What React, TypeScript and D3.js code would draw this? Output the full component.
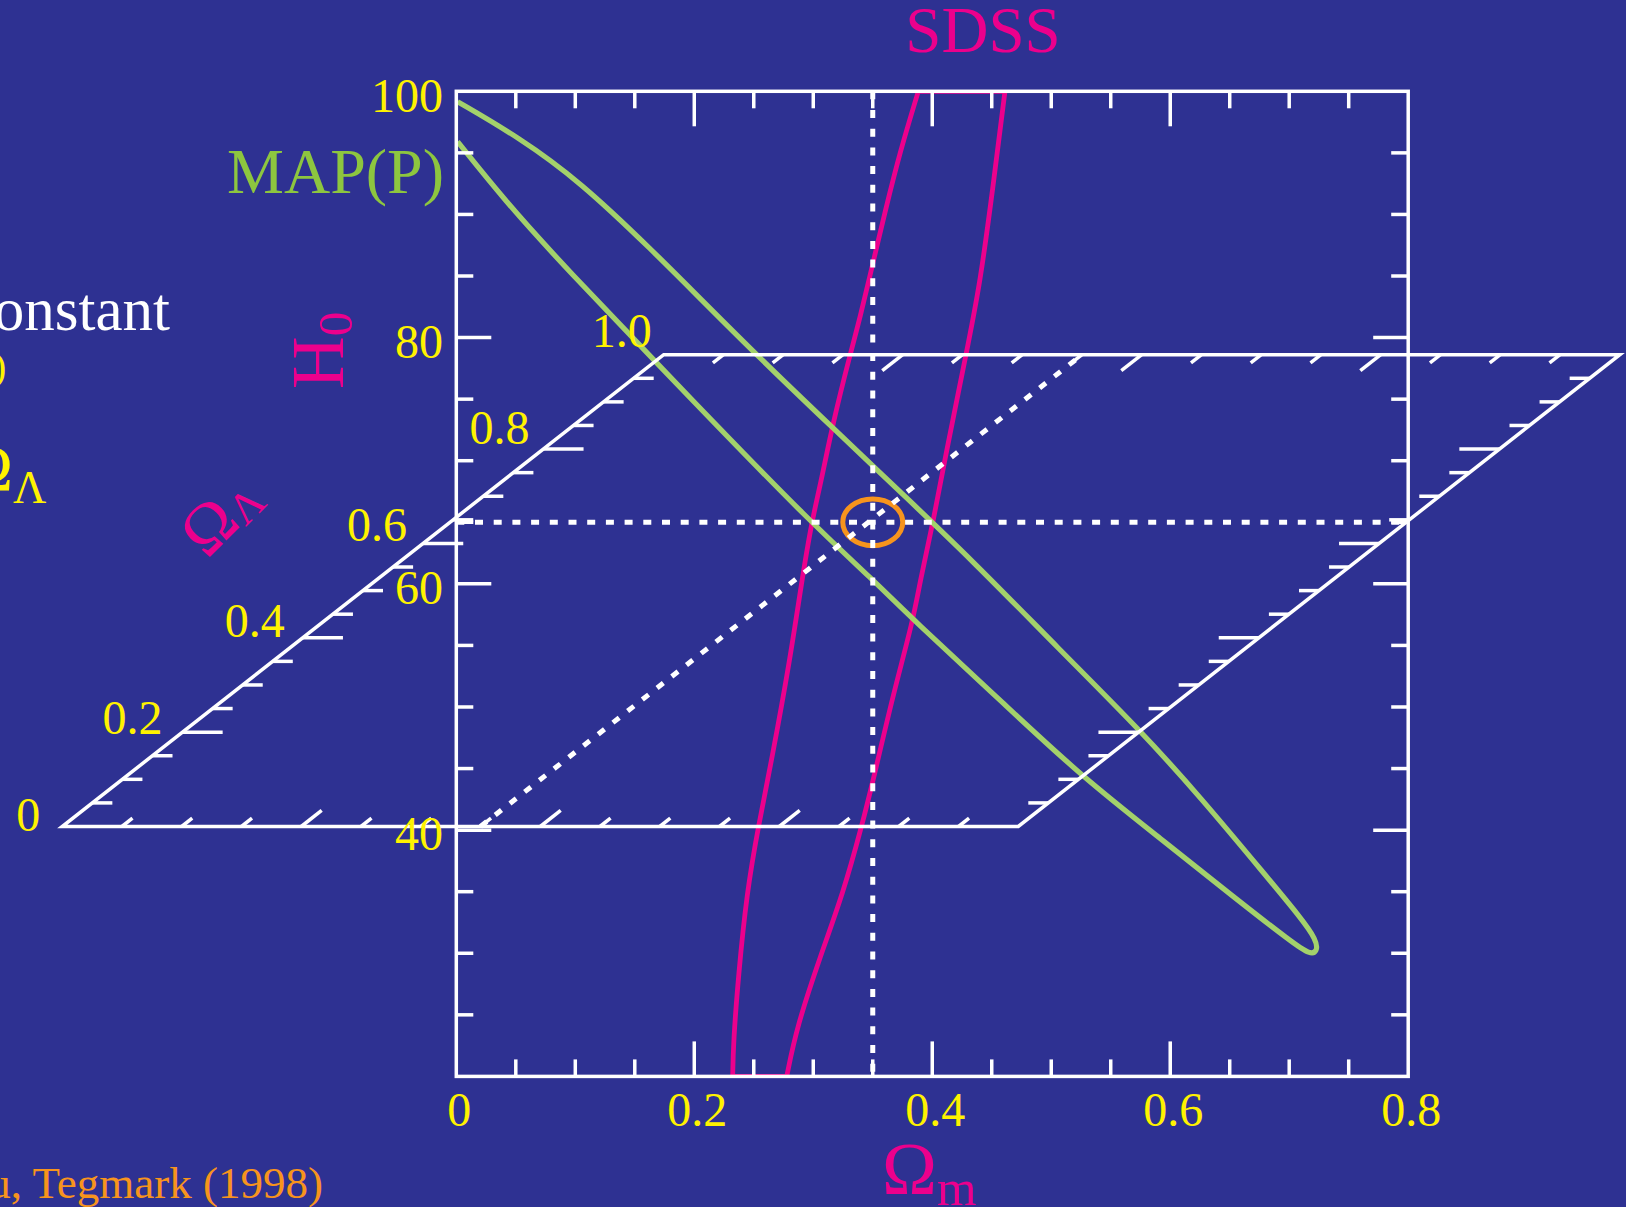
import React from 'react';
import * as d3 from 'd3';

const W = 1626;
const H = 1207;
const BG = '#2e3192';
const YELLOW = '#fff200';
const MAGENTA = '#ec008c';
const GREEN_LINE = '#a3d16b';
const GREEN_TEXT = '#8dc63f';
const ORANGE = '#f7941d';
const FONT = '"Liberation Serif", "Times New Roman", serif';

// axis labels
const omegaMLabels = [0, 0.2, 0.4, 0.6, 0.8];
const h0Labels = [40, 60, 80, 100];
const omegaLLabels = [0, 0.2, 0.4, 0.6, 0.8, 1.0];

// fiducial model and its error ellipse (half widths)
const fiducialOmegaM = 0.35;
const fiducialH0 = 65;
const fiducialErr = [0.0252, 1.9];

// SDSS contour, [Omega_m, H0]
const sdssLeft: [number, number][] = [
  [0.2323, 20], [0.2328, 22.7], [0.237, 28.1], [0.2441, 34.9], [0.2538, 40.3],
  [0.2651, 45.7], [0.2804, 53.8], [0.2903, 60.2], [0.2987, 65.05], [0.3059, 68.0],
  [0.3168, 73.2], [0.3309, 78.6], [0.3393, 81.6], [0.3505, 86.2], [0.3603, 90.2],
  [0.3729, 95.1], [0.3883, 100],
];
const sdssRight: [number, number][] = [
  [0.4611, 100], [0.4513, 92.4], [0.4401, 84.3], [0.4289, 78.85], [0.4107, 70.2],
  [0.4009, 65.05], [0.3897, 60.2], [0.3841, 57.1], [0.3673, 51.1], [0.3505, 44.1],
  [0.3407, 40.3], [0.3252, 34.9], [0.3057, 29.7], [0.2861, 24.0], [0.2777, 20],
];

// MAP(P) contour
const mapUpper: [number, number][] = [
  [0.0011, 99.16], [0.0518, 96.31], [0.1043, 92.66], [0.1661, 86.95], [0.2048, 83.19],
  [0.2552, 78.32], [0.3168, 72.63], [0.3729, 67.48], [0.4317, 62.1], [0.5073, 54.63],
  [0.5746, 48.13], [0.625, 42.72], [0.6811, 36.22], [0.709, 32.97], [0.7231, 31.08],
  [0.7236, 30.13],
];
const mapLower: [number, number][] = [
  [0.7175, 29.9], [0.7034, 30.81], [0.653, 34.59], [0.597, 38.93], [0.5256, 44.34],
  [0.4569, 50.57], [0.3841, 57.07], [0.3504, 60.31], [0.2973, 65.05], [0.2048, 74.26],
  [0.0855, 86.3], [0.0405, 91.17], [0.0011, 95.91],
];

export default function App() {
  const x = d3.scaleLinear().domain([0, 0.8]).range([456.3, 1408.2]);
  const y = d3.scaleLinear().domain([20, 100]).range([1076.4, 91.3]);

  // the slanted Omega_Lambda plane
  const planeX = d3.scaleLinear().domain([0, 0.8]).range([62.2, 1018.3]);
  const planeY = d3.scaleLinear().domain([0, 1]).range([826.5, 354.7]);
  const planeSkew = d3.scaleLinear().domain([0, 1]).range([0, 601.5]);
  const pt = (om: number, ol: number): [number, number] => [planeX(om) + planeSkew(ol), planeY(ol)];

  const curve = d3.line<[number, number]>()
    .x(d => x(d[0]))
    .y(d => y(d[1]))
    .curve(d3.curveBasis);

  const sdssPath = (curve(sdssLeft) as string) + (curve(sdssRight) as string).replace(/^M/, 'L') + 'Z';
  const mapPath = curve([...mapUpper, ...mapLower]) as string;

  const planeOutline = d3.line()([pt(0, 0), pt(0.8, 0), pt(0.8, 1), pt(0, 1)]) + 'Z';

  const xMinor = d3.range(1, 16).map(i => +(i * 0.05).toFixed(2));
  const xMajor = (v: number) => Math.abs(v * 5 - Math.round(v * 5)) < 1e-6;
  const yMinor = d3.range(25, 100, 5);
  const yMajor = (v: number) => v % 20 === 0;
  const lMinor = d3.range(1, 20).map(i => +(i * 0.05).toFixed(2));

  const fmt = (v: number) => (v === 0 ? '0' : v.toFixed(1));
  const white = { stroke: '#fff', strokeWidth: 3.5, fill: 'none' };
  const dotted = { stroke: '#fff', strokeWidth: 5, strokeDasharray: '8 10.7', fill: 'none' };

  return (
    <svg width={W} height={H} style={{ position: 'absolute', left: 0, top: 0, display: 'block' }}
      fontFamily={FONT}>
      <defs>
        <clipPath id="frame">
          <rect x={x(0)} y={y(100)} width={x(0.8) - x(0)} height={y(20) - y(100)} />
        </clipPath>
      </defs>
      <rect width={W} height={H} fill={BG} />

      {/* contours */}
      <g clipPath="url(#frame)">
        <path d={sdssPath} stroke={MAGENTA} strokeWidth={4.8} fill="none" />
        <path d={mapPath} stroke={GREEN_LINE} strokeWidth={5.2} fill="none" />
      </g>
      <ellipse cx={x(fiducialOmegaM)} cy={y(fiducialH0)}
        rx={x(fiducialOmegaM + fiducialErr[0]) - x(fiducialOmegaM)}
        ry={y(fiducialH0 - fiducialErr[1]) - y(fiducialH0)}
        stroke={ORANGE} strokeWidth={5} fill="none" />

      {/* Omega_Lambda plane */}
      <path d={planeOutline} {...white} />
      {xMinor.map(v => {
        const len = xMajor(v) ? 0.034 : 0.0175;
        const a = pt(v, 0), b = pt(v, len), c = pt(v, 1), e = pt(v, 1 - len);
        return (
          <g key={'pm' + v}>
            <line x1={a[0]} y1={a[1]} x2={b[0]} y2={b[1]} {...white} />
            <line x1={c[0]} y1={c[1]} x2={e[0]} y2={e[1]} {...white} />
          </g>
        );
      })}
      {lMinor.map(v => {
        const major = Math.abs(v * 5 - Math.round(v * 5)) < 1e-6;
        const len = major ? 0.0336 : 0.0168;
        const a = pt(0, v), b = pt(len, v), c = pt(0.8, v), e = pt(0.8 - len, v);
        return (
          <g key={'pl' + v}>
            <line x1={a[0]} y1={a[1]} x2={b[0]} y2={b[1]} {...white} />
            <line x1={c[0]} y1={c[1]} x2={e[0]} y2={e[1]} {...white} />
          </g>
        );
      })}
      {omegaLLabels.map(v => {
        const p = pt(0, v);
        return (
          <text key={'ll' + v} x={p[0] - 22 + v * 10} y={p[1] - 12 - v * 12} dy="0.34em" textAnchor="end"
            fontSize={48} fill={YELLOW}>{fmt(v)}</text>
        );
      })}

      {/* fiducial dotted lines */}
      <line x1={x(fiducialOmegaM)} y1={y(100)} x2={x(fiducialOmegaM)} y2={y(20)} {...dotted} />
      <line x1={x(0)} y1={y(fiducialH0)} x2={x(0.8)} y2={y(fiducialH0)} {...dotted} />
      <line x1={pt(fiducialOmegaM, 0)[0]} y1={pt(fiducialOmegaM, 0)[1]}
        x2={pt(fiducialOmegaM, 1)[0]} y2={pt(fiducialOmegaM, 1)[1]} {...dotted} />

      {/* main frame */}
      <rect x={x(0)} y={y(100)} width={x(0.8) - x(0)} height={y(20) - y(100)} {...white} />
      {xMinor.map(v => {
        const len = xMajor(v) ? 35 : 17;
        return (
          <g key={'xt' + v}>
            <line x1={x(v)} x2={x(v)} y1={y(100)} y2={y(100) + len} {...white} />
            <line x1={x(v)} x2={x(v)} y1={y(20)} y2={y(20) - len} {...white} />
          </g>
        );
      })}
      {yMinor.map(v => {
        const len = yMajor(v) ? 35 : 17;
        return (
          <g key={'yt' + v}>
            <line x1={x(0)} x2={x(0) + len} y1={y(v)} y2={y(v)} {...white} />
            <line x1={x(0.8)} x2={x(0.8) - len} y1={y(v)} y2={y(v)} {...white} />
          </g>
        );
      })}
      {omegaMLabels.map(v => (
        <text key={'xl' + v} x={x(v) + 3} y={1126} textAnchor="middle" fontSize={48} fill={YELLOW}>
          {fmt(v)}
        </text>
      ))}
      {h0Labels.map(v => (
        <text key={'hl' + v} x={443} y={y(v) + 4} dy="0.34em" textAnchor="end" fontSize={48} fill={YELLOW}>
          {v}
        </text>
      ))}

      {/* titles */}
      <text x={882} y={1194} fontSize={74} fill={MAGENTA}>
        Ω<tspan fontSize={51} dy={11}>m</tspan>
      </text>
      <text transform="translate(343,389) rotate(-90)" fontSize={73} fill={MAGENTA}>
        H<tspan fontSize={49} dy={9}>0</tspan>
      </text>
      <text transform="translate(207,560) rotate(-45)" fontSize={68} fill={MAGENTA}>
        Ω<tspan fontSize={44} dy={4}>Λ</tspan>
      </text>
      <text x={983} y={52} textAnchor="middle" fontSize={65} fill={MAGENTA}>SDSS</text>
      <text x={444} y={193} textAnchor="end" fontSize={64} fill={GREEN_TEXT}>MAP(P)</text>

      {/* slide text cut off at the left edge */}
      <text x={170} y={330} textAnchor="end" fontSize={61} fill="#fff">onstant</text>
      <text x={-7} y={380} fontSize={40} fill={YELLOW}>)</text>
      <text x={-36} y={490} fontSize={66} fill={YELLOW}>
        Ω<tspan fontSize={46} dy={13}>Λ</tspan>
      </text>
      <text x={323} y={1198} textAnchor="end" fontSize={45} fill={ORANGE}>Eisenstein, Hu, Tegmark (1998)</text>
    </svg>
  );
}
